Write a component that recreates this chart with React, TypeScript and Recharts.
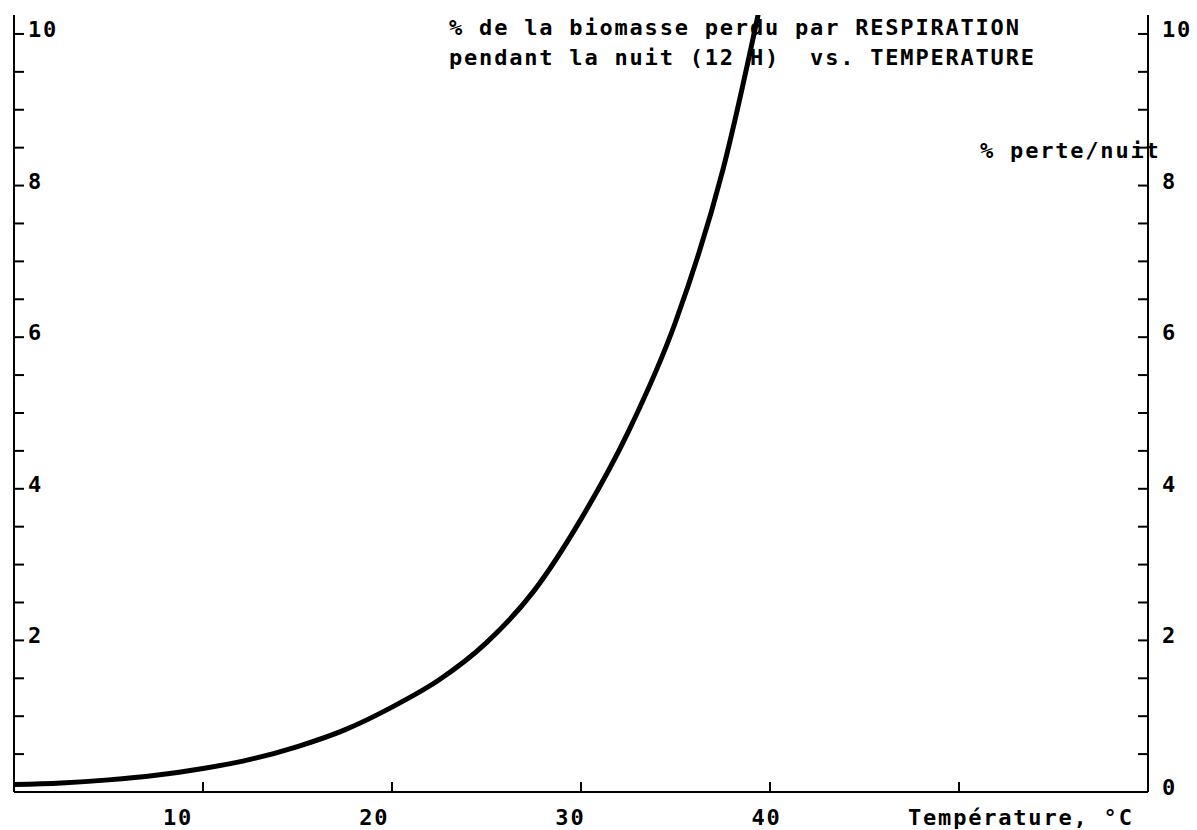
import { LineChart, Line, XAxis, YAxis } from "recharts";

// temperature (°C) vs % of biomass lost by respiration over a 12 h night
const temps = [0, 2.5, 5, 7.5, 10, 12.5, 15, 17.5, 20, 22.5, 25, 27.5, 30, 32.5, 35, 37.5, 40];
const losses = [0.1, 0.12, 0.16, 0.22, 0.31, 0.43, 0.6, 0.82, 1.12, 1.48, 1.97, 2.65, 3.6, 4.75, 6.2, 8.2, 11.0];

const xTicks = [10, 20, 30, 40, 50];
const xLabels = [10, 20, 30, 40];
const yTicks = [0, 0.5, 1, 1.5, 2, 2.5, 3, 3.5, 4, 4.5, 5, 5.5, 6, 6.5, 7, 7.5, 8, 8.5, 9, 9.5, 10];
const leftLabels = [2, 4, 6, 8, 10];
const rightLabels = [0, 2, 4, 6, 8, 10];

const titleLines = [
  "% de la biomasse perdu par RESPIRATION",
  "pendant la nuit (12 H)  vs. TEMPERATURE",
];
const yTitle = "% perte/nuit";
const xTitle = "Température, °C";

const font = {
  fontFamily: "'DejaVu Sans Mono', 'Liberation Mono', monospace",
  fontWeight: 700,
  fontSize: 22,
  letterSpacing: 1.8,
  fill: "#000",
};

const data = temps.map((t, i) => ({ t, loss: losses[i] }));

function LeftTick(props: any) {
  const { x, y, payload } = props;
  const v = payload.value;
  return (
    <g>
      <line x1={x} y1={y} x2={x + 10} y2={y} stroke="#000" strokeWidth={2} />
      {leftLabels.includes(v) ? (
        <text x={x + 14} y={y + 3} style={font}>{v}</text>
      ) : null}
    </g>
  );
}

function RightTick(props: any) {
  const { x, y, payload } = props;
  const v = payload.value;
  return (
    <g>
      <line x1={x - 10} y1={y} x2={x} y2={y} stroke="#000" strokeWidth={2} />
      {rightLabels.includes(v) ? (
        <text x={x + 14} y={y + 3} style={font}>{v}</text>
      ) : null}
    </g>
  );
}

function BottomTick(props: any) {
  const { x, y, payload } = props;
  const v = payload.value;
  // old plotter snaps labels to a character grid, so they drift from the ticks
  const drift = -25 + 0.72 * (v - 10);
  return (
    <g>
      <line x1={x} y1={y - 10} x2={x} y2={y} stroke="#000" strokeWidth={2} />
      {xLabels.includes(v) ? (
        <text x={x + drift} y={y + 33} textAnchor="middle" style={font}>{v}</text>
      ) : null}
    </g>
  );
}

export default function App() {
  return (
    <div style={{ position: "absolute", left: 0, top: 0, width: 1197, height: 830, background: "#fff" }}>
      <svg width={1197} height={830} style={{ position: "absolute", left: 0, top: 0 }}>
        {titleLines.map((line, i) => (
          <text key={i} x={449} y={35 + i * 30} style={{ ...font, whiteSpace: "pre" }}>
            {line}
          </text>
        ))}
        <text x={980} y={158} style={font}>{yTitle}</text>
        <text x={908} y={825} style={font}>{xTitle}</text>
      </svg>
      <div style={{ position: "absolute", left: 0, top: 0 }}>
        <LineChart width={1197} height={830} data={data} margin={{ top: 15, right: 48, bottom: 37, left: 13 }}>
          <XAxis
            dataKey="t"
            type="number"
            domain={[0, 60]}
            ticks={xTicks}
            interval={0}
            height={1}
            tickSize={0}
            tickMargin={0}
            tick={BottomTick}
            axisLine={{ stroke: "#000", strokeWidth: 2 }}
            tickLine={false}
          />
          <YAxis
            yAxisId="left"
            type="number"
            domain={[0, 10.25]}
            allowDataOverflow
            ticks={yTicks}
            interval={0}
            width={1}
            tickSize={0}
            tickMargin={0}
            tick={LeftTick}
            axisLine={{ stroke: "#000", strokeWidth: 2 }}
            tickLine={false}
          />
          <YAxis
            yAxisId="right"
            orientation="right"
            type="number"
            domain={[0, 10.25]}
            allowDataOverflow
            ticks={yTicks}
            interval={0}
            width={1}
            tickSize={0}
            tickMargin={0}
            tick={RightTick}
            axisLine={{ stroke: "#000", strokeWidth: 2 }}
            tickLine={false}
          />
          <Line
            yAxisId="left"
            type="monotone"
            dataKey="loss"
            stroke="#000"
            strokeWidth={5}
            dot={false}
            isAnimationActive={false}
          />
        </LineChart>
      </div>
    </div>
  );
}
